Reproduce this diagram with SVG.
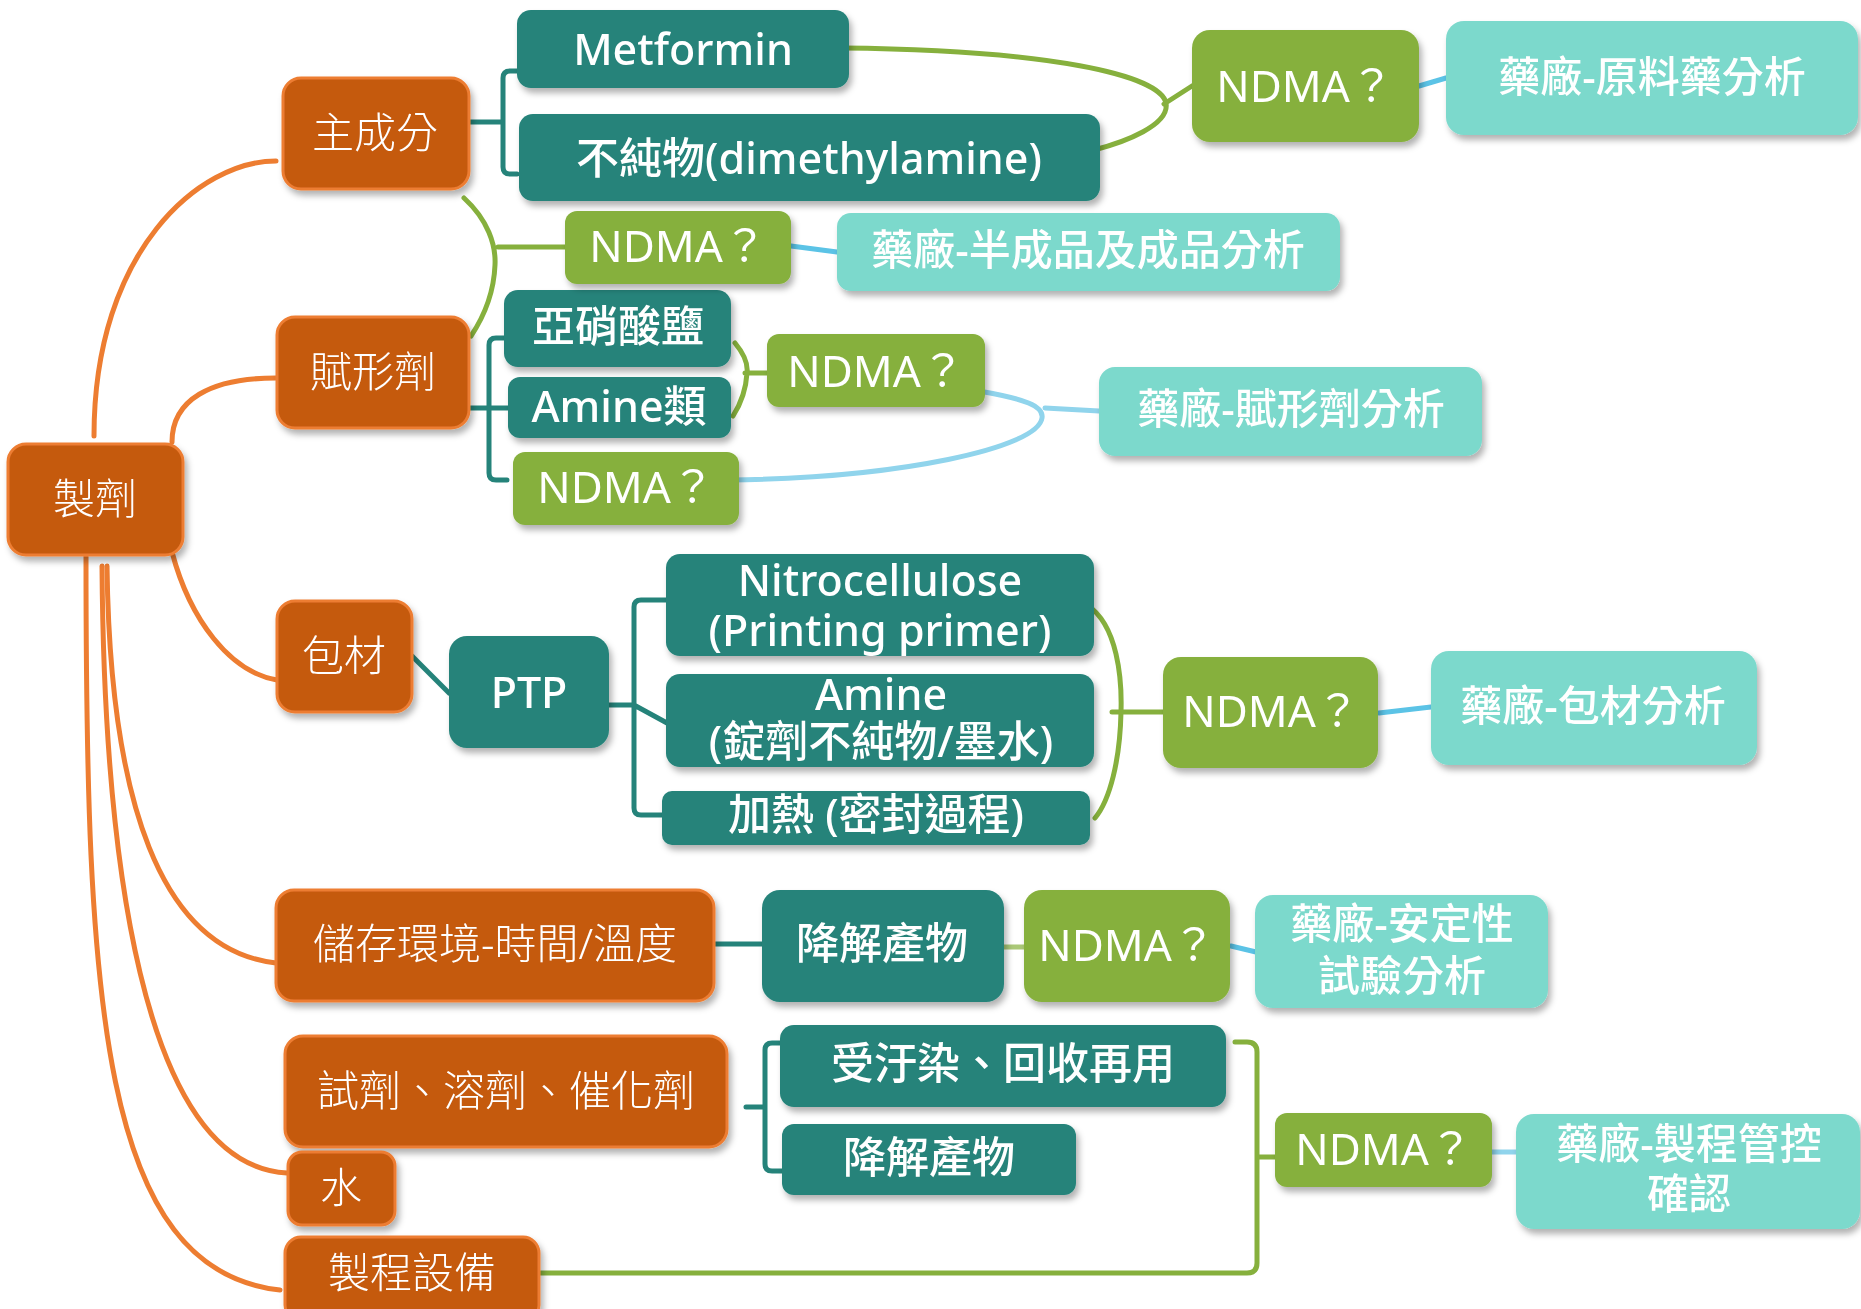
<svg xmlns="http://www.w3.org/2000/svg" width="1861" height="1309" viewBox="0 0 1861 1309">
<defs>
<filter id="sh" x="-10%" y="-10%" width="125%" height="140%">
<feDropShadow dx="3" dy="5" stdDeviation="3" flood-color="#000" flood-opacity="0.3"/>
</filter>
<style>
text{font-family:"Noto Sans","Noto Sans CJK TC",sans-serif;fill:#fff;text-anchor:middle}
.o rect{fill:#C55A11;stroke:#ED7D31;stroke-width:3}
.o text{font-size:42px;font-weight:300}
.t rect{fill:#25837A}
.t text{font-size:43px;font-weight:500}
.g rect{fill:#86B03D}
.g text{font-size:44px;font-weight:400}
.l rect{fill:#7BD9CC}
.l text{font-size:42px;font-weight:500}
.node{filter:url(#sh)}
.c path{fill:none;stroke-width:5;stroke-linecap:round;stroke-linejoin:round}
.co{stroke:#ED7D31}
.ct{stroke:#25837A}
.cg{stroke:#86B03D}
.cb{stroke:#5BC3E6}
.cl{stroke:#90D4EC}
</style>
</defs>
<rect width="1861" height="1309" fill="#fff"/>
<g id="connectors" class="c">
<path class="co" d="M94,436 C94,250 200,161 276,161"/>
<path class="co" d="M172,442 C172,400 210,378 276,378"/>
<path class="co" d="M172,552 C190,620 230,672 277,680"/>
<path class="co" d="M107,566 C110,800 160,950 276,963"/>
<path class="co" d="M102,566 C104,850 140,1165 287,1173"/>
<path class="co" d="M86,556 C86,1000 100,1270 280,1290"/>
<path class="ct" d="M470,122 L503,122 M517,71 L510,71 Q503,71 503,78 L503,167 Q503,174 510,174 L517,174"/>
<path class="ct" d="M470,408 L508,408 M504,338 L496,338 Q489,338 489,345 L489,473 Q489,480 496,480 L507,480"/>
<path class="ct" d="M412,656 L449,693"/>
<path class="ct" d="M609,705 L634,705 L667,723 M666,600 L641,600 Q634,600 634,607 L634,808 Q634,815 641,815 L662,815"/>
<path class="ct" d="M714,944 L762,944"/>
<path class="ct" d="M746,1107 L765,1107 M784,1043 L772,1043 Q765,1043 765,1050 L765,1164 Q765,1171 772,1171 L782,1171"/>
<path class="cg" d="M842,48 C1050,50 1160,75 1166,103 C1170,125 1125,142 1094,150 M1164,104 L1192,86"/>
<path class="cg" d="M464,198 C488,220 496,245 495,265 C494,290 485,315 471,336 M498,247 L565,247"/>
<path class="cg" d="M735,343 C745,355 748,365 747,373 C746,390 740,405 733,416 M745,373 L767,373"/>
<path class="cg" d="M1087,605 C1118,625 1122,680 1121,712 C1120,760 1110,800 1095,818 M1112,712 L1163,712"/>
<path class="cg" stroke-opacity="0.7" d="M1004,947 L1024,947"/>
<path class="cg" d="M539,1273 L1247,1273 Q1257,1273 1257,1263 L1257,1052 Q1257,1042 1247,1042 L1235,1042 M1257,1157 L1275,1157"/>
<path class="cb" d="M1419,86 L1446,78"/>
<path class="cb" d="M791,246 L837,252"/>
<path class="cl" d="M979,391 C1025,399 1044,406 1042,418 C1038,448 900,478 729,480 M1045,408 L1099,411"/>
<path class="cb" d="M1379,713 L1431,707"/>
<path class="cb" d="M1231,946 L1256,952"/>
<path class="cl" d="M1492,1152 L1516,1152"/>
</g>
<g id="n-zhiji" class="node o"><rect x="8" y="444" width="175" height="111" rx="18"/><text x="95" y="514">製劑</text></g>
<g id="n-zhuchengfen" class="node o"><rect x="283" y="78" width="186" height="111" rx="18"/><text x="375" y="148">主成分</text></g>
<g id="n-fuxingji" class="node o"><rect x="277" y="317" width="192" height="111" rx="18"/><text x="373" y="387">賦形劑</text></g>
<g id="n-baocai" class="node o"><rect x="277" y="601" width="135" height="111" rx="18"/><text x="344" y="671">包材</text></g>
<g id="n-chucun" class="node o"><rect x="276" y="890" width="438" height="111" rx="18"/><text x="495" y="959">儲存環境-時間/溫度</text></g>
<g id="n-shiji" class="node o"><rect x="285" y="1036" width="442" height="111" rx="18"/><text x="506" y="1106">試劑、溶劑、催化劑</text></g>
<g id="n-shui" class="node o"><rect x="288" y="1152" width="107" height="73" rx="14"/><text x="341" y="1203">水</text></g>
<g id="n-shebei" class="node o"><rect x="285" y="1237" width="254" height="84" rx="16"/><text x="412" y="1288">製程設備</text></g>
<g id="n-metformin" class="node t"><rect x="517" y="10" width="332" height="78" rx="14"/><text x="683" y="65">Metformin</text></g>
<g id="n-impurity" class="node t"><rect x="519" y="114" width="581" height="87" rx="14"/><text x="809" y="174">不純物(dimethylamine)</text></g>
<g id="n-nitrite" class="node t"><rect x="504" y="290" width="227" height="77" rx="14"/><text x="618" y="342">亞硝酸鹽</text></g>
<g id="n-amines" class="node t"><rect x="508" y="377" width="223" height="61" rx="12"/><text x="619" y="422">Amine類</text></g>
<g id="n-ptp" class="node t"><rect x="449" y="636" width="160" height="112" rx="18"/><text x="529" y="708">PTP</text></g>
<g id="n-nitrocellulose" class="node t"><rect x="666" y="554" width="428" height="102" rx="14"/><text x="880" y="596">Nitrocellulose</text><text x="880" y="646">(Printing primer)</text></g>
<g id="n-amine" class="node t"><rect x="666" y="674" width="428" height="93" rx="14"/><text x="881" y="710">Amine</text><text x="881" y="757">(錠劑不純物/墨水)</text></g>
<g id="n-heat" class="node t"><rect x="662" y="791" width="428" height="54" rx="10"/><text x="876" y="830">加熱 (密封過程)</text></g>
<g id="n-degrade1" class="node t"><rect x="762" y="890" width="242" height="112" rx="18"/><text x="882" y="959">降解產物</text></g>
<g id="n-contam" class="node t"><rect x="780" y="1025" width="446" height="82" rx="14"/><text x="1003" y="1079">受汙染、回收再用</text></g>
<g id="n-degrade2" class="node t"><rect x="782" y="1124" width="294" height="71" rx="12"/><text x="929" y="1173">降解產物</text></g>
<g id="n-ndma1" class="node g"><rect x="1192" y="30" width="227" height="112" rx="18"/><text x="1305" y="102">NDMA？</text></g>
<g id="n-ndma2" class="node g"><rect x="565" y="211" width="226" height="73" rx="12"/><text x="678" y="262">NDMA？</text></g>
<g id="n-ndma3" class="node g"><rect x="767" y="334" width="218" height="73" rx="12"/><text x="876" y="387">NDMA？</text></g>
<g id="n-ndma4" class="node g"><rect x="513" y="452" width="226" height="73" rx="12"/><text x="626" y="503">NDMA？</text></g>
<g id="n-ndma5" class="node g"><rect x="1163" y="657" width="215" height="111" rx="18"/><text x="1271" y="727">NDMA？</text></g>
<g id="n-ndma6" class="node g"><rect x="1024" y="890" width="206" height="112" rx="18"/><text x="1127" y="961">NDMA？</text></g>
<g id="n-ndma7" class="node g"><rect x="1275" y="1113" width="217" height="74" rx="12"/><text x="1384" y="1165">NDMA？</text></g>
<g id="n-api" class="node l"><rect x="1446" y="21" width="412" height="114" rx="18"/><text x="1652" y="92">藥廠-原料藥分析</text></g>
<g id="n-product" class="node l"><rect x="837" y="213" width="503" height="78" rx="14"/><text x="1088" y="265">藥廠-半成品及成品分析</text></g>
<g id="n-excipient" class="node l"><rect x="1099" y="367" width="383" height="89" rx="16"/><text x="1291" y="424">藥廠-賦形劑分析</text></g>
<g id="n-package" class="node l"><rect x="1431" y="651" width="326" height="114" rx="18"/><text x="1593" y="721">藥廠-包材分析</text></g>
<g id="n-stability" class="node l"><rect x="1255" y="895" width="293" height="113" rx="18"/><text x="1402" y="939">藥廠-安定性</text><text x="1402" y="991">試驗分析</text></g>
<g id="n-process" class="node l"><rect x="1516" y="1114" width="344" height="115" rx="18"/><text x="1689" y="1159">藥廠-製程管控</text><text x="1689" y="1209">確認</text></g>
</svg>
